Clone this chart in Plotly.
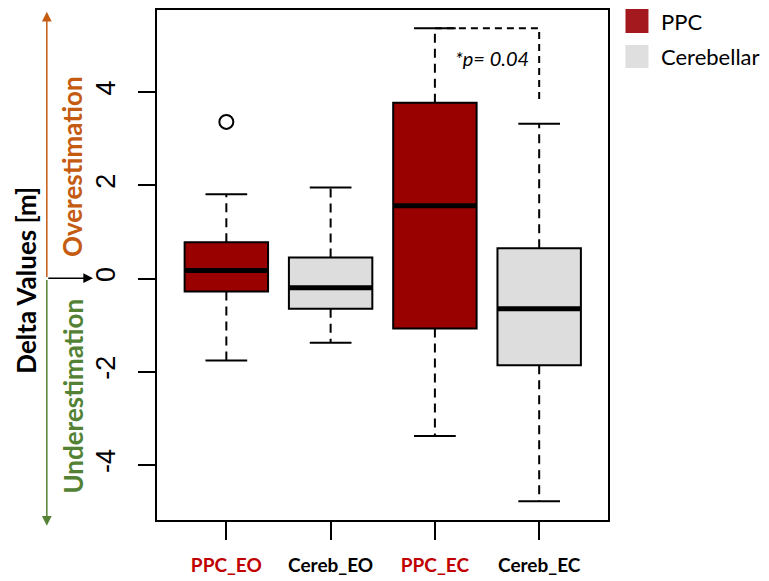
import plotly.graph_objects as go

# ---------------- data ----------------
categories = ["PPC_EO", "Cereb_EO", "PPC_EC", "Cereb_EC"]
positions = [1, 2, 3, 4]
groups = ["PPC", "Cerebellar", "PPC", "Cerebellar"]
q1 = [-0.28, -0.65, -1.07, -1.86]
median = [0.17, -0.20, 1.56, -0.65]
q3 = [0.78, 0.45, 3.77, 0.65]
lower_whisker = [-1.76, -1.38, -3.38, -4.78]
upper_whisker = [1.81, 1.95, 5.37, 3.32]
outlier_pos = [1]
outlier_val = [3.36]
y_tickvals = [-4, -2, 0, 2, 4]
y_ticktext = ["-4", "-2", "0", "2", "4"]
bracket_groups = [3, 4]
bracket_top = 5.37
bracket_bottom = 3.78
p_label = "*p= 0.04"
p_label_y = 4.73

# ---------------- style ----------------
OFF = 8  # browser body margin
W, H = 769 - OFF, 581 - OFF
PL, PR, PT, PB = 157, 608.5, 10, 520  # plot area in window pixels
L = PL - OFF
T = PT - OFF
R = W - (PR - OFF)
B = H - (PB - OFF)
plot_w = PR - PL
plot_h = PB - PT
box_w = 0.8
cap_half = 0.2
fill = {"PPC": "#990000", "Cerebellar": "#DDDDDD"}
legend_fill = {"PPC": "#A3191E", "Cerebellar": "#DFDFDF"}
tick_color = {"PPC": "#C00000", "Cerebellar": "#000000"}
orange = "#C55A11"
green = "#548235"
calib = "Lato"


def px(x):
    return (x - PL) / plot_w


def py(y):
    return (PB - y) / plot_h


fig = go.Figure()

# boxes
for i, pos in enumerate(positions):
    fig.add_trace(go.Box(
        x=[pos], q1=[q1[i]], median=[median[i]], q3=[q3[i]],
        lowerfence=[q1[i]], upperfence=[q3[i]],
        width=box_w, whiskerwidth=0,
        fillcolor=fill[groups[i]],
        line=dict(color="black", width=2),
        boxpoints=False, showlegend=False, hoverinfo="skip",
    ))
    # thick median
    fig.add_trace(go.Scatter(
        x=[pos - box_w / 2, pos + box_w / 2], y=[median[i], median[i]],
        mode="lines", line=dict(color="black", width=5),
        showlegend=False, hoverinfo="skip",
    ))
    # dashed whiskers
    for a, b in ((q3[i], upper_whisker[i]), (q1[i], lower_whisker[i])):
        fig.add_trace(go.Scatter(
            x=[pos, pos], y=[a, b], mode="lines",
            line=dict(color="black", width=2, dash="9px,6px"),
            showlegend=False, hoverinfo="skip",
        ))
    # caps
    for v in (upper_whisker[i], lower_whisker[i]):
        fig.add_trace(go.Scatter(
            x=[pos - cap_half, pos + cap_half], y=[v, v], mode="lines",
            line=dict(color="black", width=2),
            showlegend=False, hoverinfo="skip",
        ))

# outlier
fig.add_trace(go.Scatter(
    x=outlier_pos, y=outlier_val, mode="markers",
    marker=dict(symbol="circle-open", size=14, color="black", line=dict(width=2)),
    showlegend=False, hoverinfo="skip",
))

# significance bracket
fig.add_trace(go.Scatter(
    x=[bracket_groups[0], bracket_groups[1], bracket_groups[1]],
    y=[bracket_top, bracket_top, bracket_bottom],
    mode="lines", line=dict(color="black", width=2, dash="7px,5px"),
    showlegend=False, hoverinfo="skip",
))

fig.add_annotation(
    x=sum(bracket_groups) / 2 + 0.05, y=p_label_y, xref="x", yref="y",
    text="<i>" + p_label + "</i>", showarrow=False,
    xanchor="center", yanchor="middle",
    font=dict(family=calib, size=20, color="black"),
)

ticktext = [
    "<b><span style='color:%s'>%s</span></b>" % (tick_color[g], c)
    for c, g in zip(categories, groups)
]

fig.update_layout(
    width=W, height=H,
    margin=dict(l=L, r=R, t=T, b=B, autoexpand=False),
    paper_bgcolor="white", plot_bgcolor="white",
    showlegend=False,
    xaxis=dict(
        range=[0.335, 4.66], tickmode="array", tickvals=positions,
        ticktext=ticktext, ticks="outside", ticklen=18, tickwidth=2,
        tickcolor="black", showline=True, mirror=True, linecolor="black",
        linewidth=2, showgrid=False, zeroline=False, automargin=False,
        tickfont=dict(family=calib, size=19, color="black"),
        ticklabelstandoff=9,
    ),
    yaxis=dict(
        range=[-5.18, 5.76], tickmode="array", tickvals=y_tickvals,
        ticktext=y_ticktext, ticks="outside", ticklen=17, tickwidth=2,
        tickcolor="black", showline=True, mirror=True, linecolor="black",
        linewidth=2, showgrid=False, zeroline=False, tickangle=-90,
        automargin=False,
        tickfont=dict(family="Liberation Sans", size=27, color="black"),
        ticklabelstandoff=12,
    ),
)

# legend (drawn manually)
for name, y0, y1 in (("PPC", 9, 33), ("Cerebellar", 45, 68)):
    fig.add_shape(type="rect", xref="paper", yref="paper",
                  x0=px(626), x1=px(649), y0=py(y1), y1=py(y0),
                  fillcolor=legend_fill[name], line=dict(width=0))
    fig.add_annotation(xref="paper", yref="paper", x=px(660), y=py((y0 + y1) / 2),
                       text=name, showarrow=False, xanchor="left", yanchor="middle",
                       font=dict(family=calib, size=22, color="black"))

# left side arrows
arrow_x = px(46.7)
fig.add_annotation(xref="paper", yref="paper", x=arrow_x, y=py(11.7),
                   ax=0, ay=278.5 - 11.7, axref="pixel", ayref="pixel",
                   text="", showarrow=True, arrowhead=2, arrowsize=1.3,
                   arrowwidth=1.5, arrowcolor=orange)
fig.add_annotation(xref="paper", yref="paper", x=arrow_x, y=py(525.7),
                   ax=0, ay=-(525.7 - 278.5), axref="pixel", ayref="pixel",
                   text="", showarrow=True, arrowhead=2, arrowsize=1.3,
                   arrowwidth=1.5, arrowcolor=green)
fig.add_annotation(xref="paper", yref="paper", x=px(93), y=py(278.2),
                   ax=-(93 - 46.7), ay=0, axref="pixel", ayref="pixel",
                   text="", showarrow=True, arrowhead=2, arrowsize=1.3,
                   arrowwidth=1.5, arrowcolor="black")

for txt, xc, yc, col, sz in (("Overestimation", 72, 167, orange, 26),
                             ("Underestimation", 72, 396.5, green, 26),
                             ("Delta Values [m]", 25, 280.5, "black", 26)):
    fig.add_annotation(xref="paper", yref="paper", x=px(xc), y=py(yc),
                       text="<b>" + txt + "</b>", textangle=-90, showarrow=False,
                       xanchor="center", yanchor="middle", borderpad=0,
                       font=dict(family=calib, size=sz, color=col))

fig.write_html("out.html")
